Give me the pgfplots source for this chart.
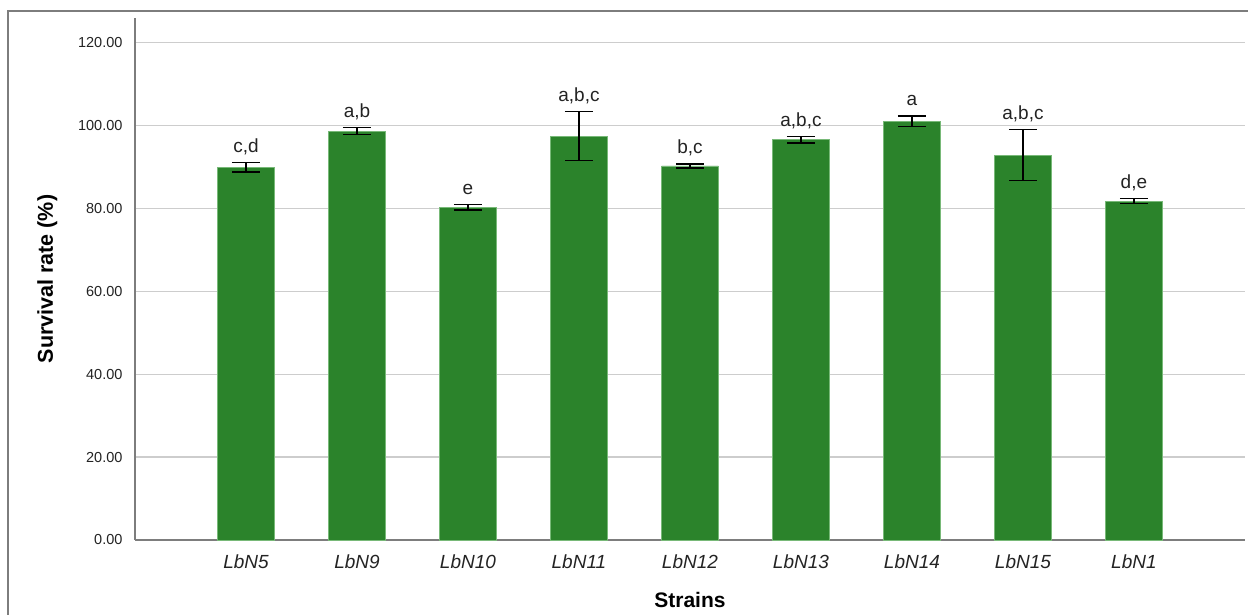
\documentclass[border=0pt]{standalone}
\usepackage{pgfplots}
\pgfplotsset{compat=1.18}
\usepackage{fontspec}
\setmainfont{Liberation Sans}
\definecolor{barg}{RGB}{43,131,43}
\definecolor{baredge}{RGB}{120,185,120}
\definecolor{gridg}{RGB}{205,205,205}
\definecolor{axg}{RGB}{125,125,125}
\definecolor{txt}{RGB}{35,35,35}
\begin{document}
\begin{tikzpicture}[x=1pt,y=1pt]
\path[use as bounding box] (-135,-75) rectangle (1113,540);
\draw[axg, line width=1.2pt] (-127,-76) -- (-127,529) -- (1114,529);
\begin{axis}[
  at={(0,0)}, anchor=south west,
  scale only axis, width=1110pt, height=522pt,
  xmin=-1, xmax=9, ymin=0, ymax=126,
  axis x line=bottom, axis y line=left,
  axis line style={axg, line width=1.5pt, -},
  xtick={0,...,8},
  xticklabels={LbN5,LbN9,LbN10,LbN11,LbN12,LbN13,LbN14,LbN15,LbN1},
  x tick label style={font=\fontsize{19}{22}\selectfont\itshape, text=txt, yshift=-11pt},
  ytick={0,20,...,120},
  y tick label style={font=\fontsize{14.5}{17}\selectfont, text=txt, xshift=-9pt},
  yticklabel={\pgfmathprintnumber[fixed,fixed zerofill,precision=2,assume math mode=true]{\tick}},
  major tick length=0pt,
  ymajorgrids, grid style={gridg, line width=1.3pt},
  xlabel={\textbf{Strains}}, ylabel={\textbf{Survival rate (\%)}},
  xlabel style={font=\fontsize{21}{24}\selectfont, yshift=-17pt},
  ylabel style={font=\fontsize{21.5}{24}\selectfont, yshift=14pt},
  clip=false,
]
\addplot[ybar, bar width=0.51, fill=barg, draw=baredge, line width=0.6pt,
  error bars/.cd, y dir=both, y explicit,
  error bar style={black, line width=1.6pt},
  error mark options={black, line width=1.6pt, mark size=14pt, rotate=90}]
  table[x=x, y=y, y error=e] {
  x y e
  0 90.0 1.15
  1 98.7 0.85
  2 80.3 0.7
  3 97.5 5.9
  4 90.3 0.5
  5 96.6 0.75
  6 101.1 1.25
  7 92.9 6.15
  8 81.8 0.6
};
\addplot[draw=none, mark=none, nodes near coords, point meta=explicit symbolic,
  every node near coord/.append style={anchor=base, inner sep=0pt, yshift=10pt,
    font=\fontsize{19}{22}\selectfont, text=txt}]
  table[x=x, y=y, meta=l] {
  x y l
  0 91.15 {c,d}
  1 99.55 {a,b}
  2 81.0 {e}
  3 103.4 {a,b,c}
  4 90.8 {b,c}
  5 97.35 {a,b,c}
  6 102.35 {a}
  7 99.05 {a,b,c}
  8 82.4 {d,e}
};
\end{axis}
\end{tikzpicture}
\end{document}
